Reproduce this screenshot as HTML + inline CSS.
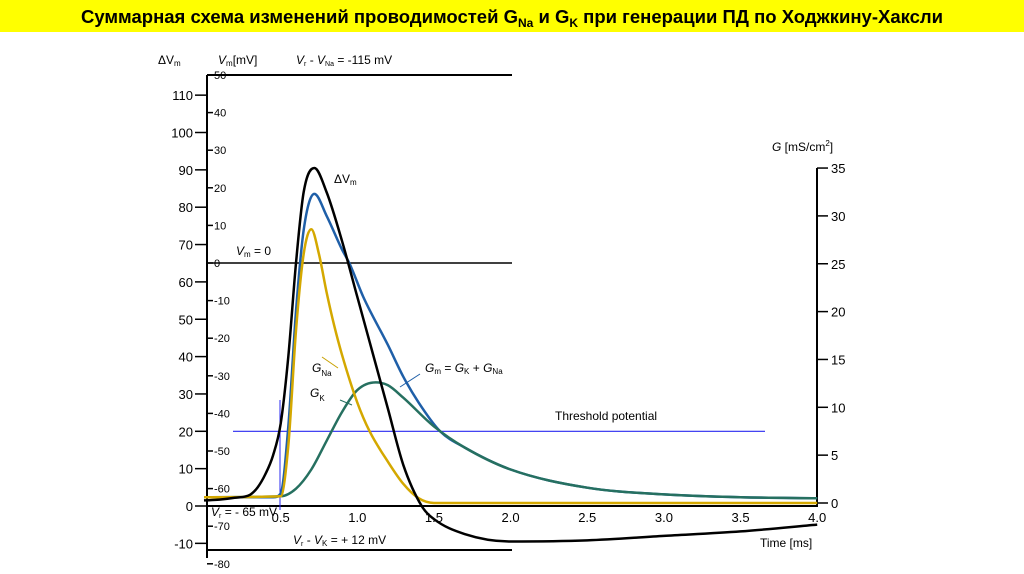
<!DOCTYPE html>
<html><head><meta charset="utf-8"><style>
html,body{margin:0;padding:0;background:#fff;}
svg{display:block;font-family:"Liberation Sans","DejaVu Sans",sans-serif;}
</style></head><body>
<svg id="chart" width="1024" height="574" viewBox="0 0 1024 574">
<rect x="0" y="0" width="1024" height="32" fill="#ffff00"/>
<text x="512" y="23" text-anchor="middle" font-size="18.5" font-weight="bold" fill="#000">Суммарная схема изменений проводимостей G<tspan font-size="12" dy="4">Na</tspan><tspan dy="-4"> и G</tspan><tspan font-size="12" dy="4">K</tspan><tspan dy="-4"> при генерации ПД по Ходжкину-Хаксли</tspan></text>
<g id="axes"></g>
<g id="marks"></g>
<g id="labels" font-size="12" fill="#000">
<text x="158" y="64" font-size="12">ΔV<tspan font-size="8" dy="2">m</tspan></text>
<text x="218" y="64" font-size="12"><tspan font-style="italic">V</tspan><tspan font-size="8" dy="2">m</tspan><tspan dy="-2">[mV]</tspan></text>
<text x="296" y="64"><tspan font-style="italic">V</tspan><tspan font-size="7" dy="2">r</tspan><tspan dy="-2"> - </tspan><tspan font-style="italic">V</tspan><tspan font-size="7" dy="2">Na</tspan><tspan dy="-2"> = -115 mV</tspan></text>
<text x="334" y="183">ΔV<tspan font-size="8" dy="2">m</tspan></text>
<text x="236" y="255"><tspan font-style="italic">V</tspan><tspan font-size="8" dy="2">m</tspan><tspan dy="-2"> = 0</tspan></text>
<text x="425" y="372"><tspan font-style="italic">G</tspan><tspan font-size="8" dy="2">m</tspan><tspan dy="-2"> = </tspan><tspan font-style="italic">G</tspan><tspan font-size="8" dy="2">K</tspan><tspan dy="-2"> + </tspan><tspan font-style="italic">G</tspan><tspan font-size="8" dy="2">Na</tspan></text>
<text x="312" y="372"><tspan font-style="italic">G</tspan><tspan font-size="8" dy="4">Na</tspan></text>
<text x="310" y="397"><tspan font-style="italic">G</tspan><tspan font-size="8" dy="4">K</tspan></text>
<text x="555" y="420">Threshold potential</text>
<text x="211" y="516"><tspan font-style="italic">V</tspan><tspan font-size="7" dy="2">r</tspan><tspan dy="-2"> = - 65 mV</tspan></text>
<text x="293" y="544"><tspan font-style="italic">V</tspan><tspan font-size="7" dy="2">r</tspan><tspan dy="-2"> - </tspan><tspan font-style="italic">V</tspan><tspan font-size="8" dy="2">K</tspan><tspan dy="-2"> = + 12 mV</tspan></text>
<text x="760" y="547">Time [ms]</text>
<text x="772" y="151"><tspan font-style="italic">G</tspan> [mS/cm<tspan font-size="8" dy="-5">2</tspan><tspan dy="5">]</tspan></text>
<line x1="400" y1="387" x2="420" y2="374" stroke="#1f5fa8" stroke-width="1"/>
<line x1="338" y1="368" x2="322" y2="357" stroke="#c8a000" stroke-width="1"/>
<line x1="340" y1="400" x2="352" y2="405" stroke="#267060" stroke-width="1"/>
</g>
</svg>
<script>
// ---- data ----
var dvTimes = [0,0.1,0.2,0.3,0.35,0.4,0.45,0.5,0.55,0.6,0.65,0.72,0.8,0.9,1.0,1.1,1.2,1.3,1.42,1.5,1.7,2.0,2.5,3.0,3.5,4.0];
var dvValues = [1.5,1.7,2.2,3,5,8.5,13.5,22,40,65,84,90.5,84,71,56,41,26,11,0,-3.5,-7.5,-9.5,-9.2,-8,-6.8,-5];
var gmTimes = [0,0.45,0.5,0.55,0.6,0.65,0.72,0.8,0.9,0.95,1.04,1.2,1.3,1.4,1.54,1.7,2.0,2.5,3.0,3.5,4.0];
var gmValues = [0.6,0.6,1,8,20,28.5,32.3,30,26.5,25,21.5,16.5,13.2,10.5,7.5,5.8,3.5,1.6,0.9,0.6,0.5];
var gkTimes = [0,0.5,0.6,0.7,0.8,0.9,1.0,1.12,1.2,1.3,1.5,1.7,2.0,2.5,3.0,3.5,4.0];
var gkValues = [0.6,0.7,1.5,3.5,6.5,9.5,11.8,12.6,12.3,11,8,5.8,3.5,1.6,0.9,0.6,0.5];
var gnaTimes = [0,0.5,0.55,0.6,0.65,0.7,0.75,0.8,0.85,0.9,1.0,1.08,1.2,1.3,1.4,1.5,2.0,4.0];
var gnaValues = [0.6,0.7,6,18,26,28.6,26,22,18.5,15.5,10.5,7.5,4.3,2,0.5,0,0,0];
var timeTicks = [0.5,1.0,1.5,2.0,2.5,3.0,3.5,4.0];
var dvTicks = [-10,0,10,20,30,40,50,60,70,80,90,100,110];
var vmTicks = [50,40,30,20,10,0,-10,-20,-30,-40,-50,-60,-70,-80];
var gTicks = [0,5,10,15,20,25,30,35];
var thresholdDv = 20;

// ---- scales ----
function xS(t){return 204+t*153.3;}
function yDv(v){return 506-v*3.735;}
function yVm(v){return 263-v*3.76;}
function yG(v){return 503-v*9.57;}

var NS="http://www.w3.org/2000/svg";
var axes=document.getElementById('axes'), marks=document.getElementById('marks');
function mk(tag,attrs,parent){var e=document.createElementNS(NS,tag);for(var k in attrs)e.setAttribute(k,attrs[k]);parent.appendChild(e);return e;}
function txt(x,y,s,anchor,parent){var e=mk('text',{x:x,y:y,'font-size':13,'text-anchor':anchor},parent);e.textContent=s;return e;}

var l;
l=mk('line',{x1:207,y1:yVm(50),x2:512,y2:yVm(50),stroke:'#000','stroke-width':2},axes);


l=mk('line',{x1:207,y1:yVm(0),x2:512,y2:yVm(0),stroke:'#000','stroke-width':1.5},axes);


l=mk('line',{x1:207,y1:550,x2:512,y2:550,stroke:'#000','stroke-width':2},axes);


l=mk('line',{x1:207,y1:yVm(50),x2:207,y2:558,stroke:'#000','stroke-width':2},axes);


dvTicks.forEach(function(v){
  var t=mk('line',{x1:195,y1:yDv(v),x2:207,y2:yDv(v),stroke:'#000','stroke-width':1.5},axes);
  
  
  var s=txt(193,yDv(v)+5,String(v),'end',axes);
  
  
});
vmTicks.forEach(function(v){
  var t=mk('line',{x1:207,y1:yVm(v),x2:213,y2:yVm(v),stroke:'#000','stroke-width':1.5},axes);
  
  
  var s=mk('text',{x:214,y:yVm(v)+4,'font-size':11},axes);s.textContent=String(v);
  
  
});
l=mk('line',{x1:207,y1:506,x2:818,y2:506,stroke:'#000','stroke-width':2},axes);


timeTicks.forEach(function(v){
  var s=txt(xS(v),522,v.toFixed(1),'middle',axes);
  
  
});
l=mk('line',{x1:817,y1:yG(35),x2:817,y2:506,stroke:'#000','stroke-width':2},axes);


gTicks.forEach(function(v){
  var t=mk('line',{x1:817,y1:yG(v),x2:828,y2:yG(v),stroke:'#000','stroke-width':1.5},axes);
  
  
  var s=txt(831,yG(v)+5,String(v),'start',axes);
  
  
});
l=mk('line',{x1:233,y1:yDv(thresholdDv),x2:765,y2:yDv(thresholdDv),stroke:'#2a2af0','stroke-width':1.2},marks);


l=mk('line',{x1:280,y1:400,x2:280,y2:510,stroke:'#2a2af0','stroke-width':1},marks);



// monotone cubic (Fritsch-Carlson) in data space
function smooth(ts,vs,yf){
  var n=ts.length,d=[],m=[];
  for(var i=0;i<n-1;i++)d.push((vs[i+1]-vs[i])/(ts[i+1]-ts[i]));
  m[0]=d[0];m[n-1]=d[n-2];
  for(i=1;i<n-1;i++){m[i]=(d[i-1]*d[i]<=0)?0:(d[i-1]+d[i])/2;}
  for(i=0;i<n-1;i++){
    if(d[i]===0){m[i]=0;m[i+1]=0;continue;}
    var a=m[i]/d[i],b=m[i+1]/d[i],s=a*a+b*b;
    if(s>9){var tt=3/Math.sqrt(s);m[i]=tt*a*d[i];m[i+1]=tt*b*d[i];}
  }
  var path='M'+xS(ts[0])+','+yf(vs[0]);
  for(i=0;i<n-1;i++){
    var h=ts[i+1]-ts[i];
    var c1t=ts[i]+h/3,c1v=vs[i]+m[i]*h/3;
    var c2t=ts[i+1]-h/3,c2v=vs[i+1]-m[i+1]*h/3;
    path+=' C'+xS(c1t)+','+yf(c1v)+' '+xS(c2t)+','+yf(c2v)+' '+xS(ts[i+1])+','+yf(vs[i+1]);
  }
  return path;
}
var p;
p=mk('path',{d:smooth(gmTimes,gmValues,yG),fill:'none',stroke:'#1f5fa8','stroke-width':2.5},marks);


p=mk('path',{d:smooth(gkTimes,gkValues,yG),fill:'none',stroke:'#267060','stroke-width':2.5},marks);


p=mk('path',{d:smooth(gnaTimes,gnaValues,yG),fill:'none',stroke:'#d4a800','stroke-width':2.5},marks);


p=mk('path',{d:smooth(dvTimes,dvValues,yDv),fill:'none',stroke:'#000','stroke-width':2.5},marks);


</script>
</body></html>
